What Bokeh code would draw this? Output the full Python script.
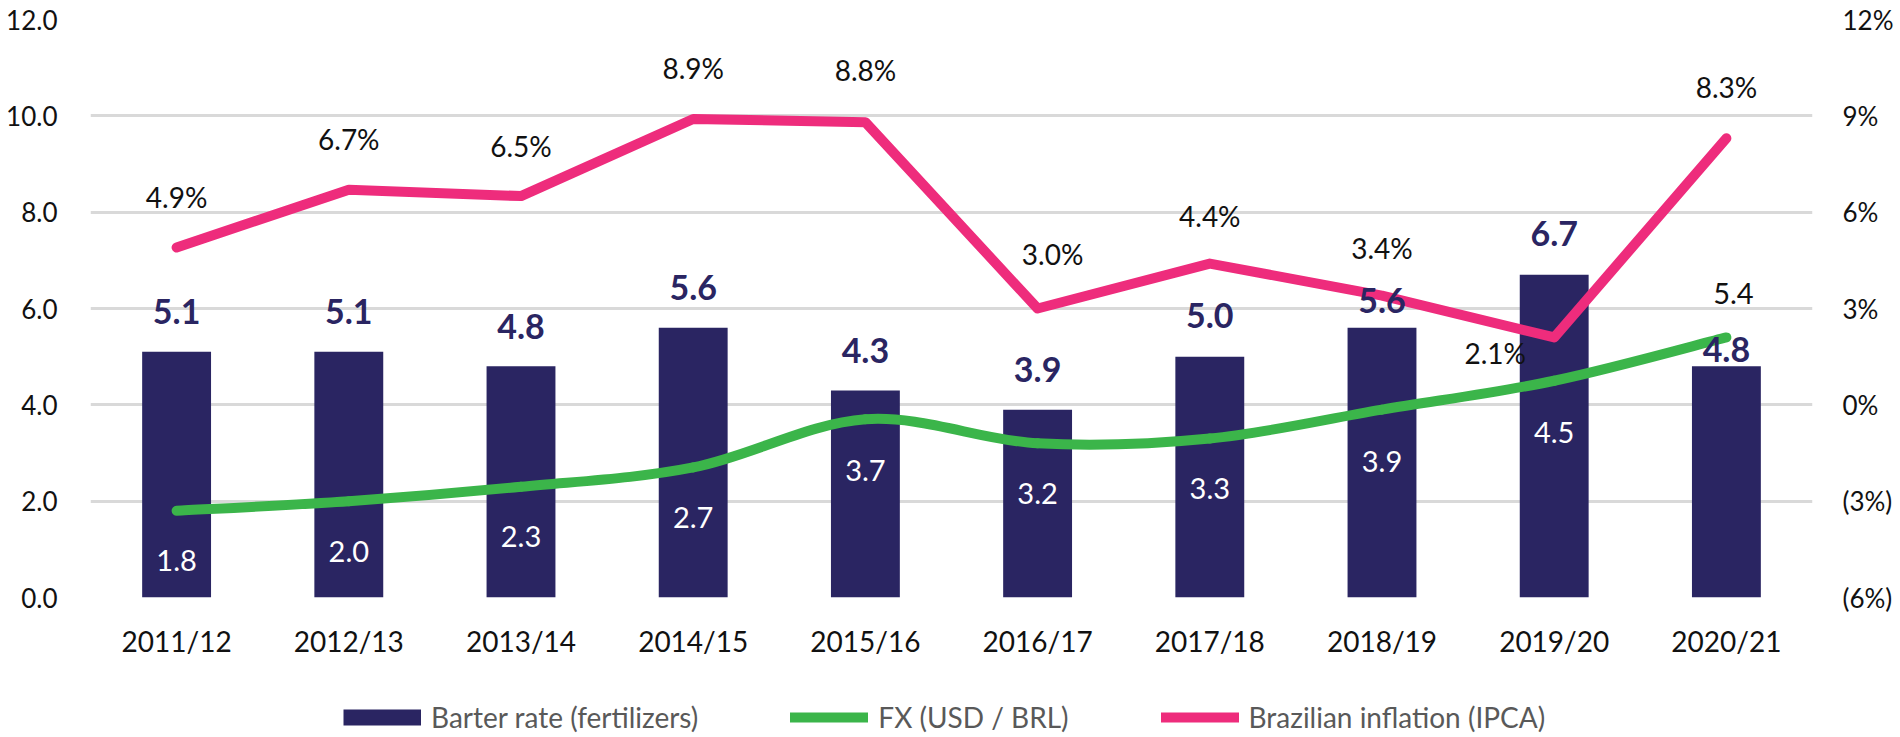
import numpy as np
from bokeh.plotting import figure
from bokeh.layouts import column
from bokeh.models import (FactorRange, Range1d, LinearAxis, FixedTicker, ColumnDataSource,
                          Legend, LegendItem, NumeralTickFormatter)
from bokeh.core.properties import value
from bokeh.embed import file_html
from bokeh.resources import INLINE

# ---------------- data ----------------
seasons = ["2011/12", "2012/13", "2013/14", "2014/15", "2015/16",
           "2016/17", "2017/18", "2018/19", "2019/20", "2020/21"]
barter_rate = [5.1, 5.1, 4.8, 5.6, 4.3, 3.9, 5.0, 5.6, 6.7, 4.8]
fx_usd_brl = [1.8, 2.0, 2.3, 2.7, 3.7, 3.2, 3.3, 3.9, 4.5, 5.4]
ipca_pct = [4.9, 6.7, 6.5, 8.9, 8.8, 3.0, 4.4, 3.4, 2.1, 8.3]

left_ticks = [0, 2, 4, 6, 8, 10, 12]
right_ticks = [-6, -3, 0, 3, 6, 9, 12]
right_tick_labels = ["(6%)", "(3%)", "0%", "3%", "6%", "9%", "12%"]
legend_labels = ["Barter rate (fertilizers)", "FX (USD / BRL)", "Brazilian inflation (IPCA)"]

# ---------------- styles ----------------
NAVY = "#2A2562"
GREEN = "#3BB54A"
PINK = "#EE2C7C"
GRID = "#D9D9D9"
TXT = "#111111"
FONT = "Lato"

bar_label_dy = [-40, -40, -40, -40, -40, -40, -41, -27, -41, -17]
fx_label_dy = [50, 50, 50, 50, 51, 50, 50, 52, 52, -44]
fx_label_color = ["white"] * 9 + [TXT]
fx_label_dx = [0] * 9 + [7]
ipca_label_dx = [0, 0, 0, 0, 0, 15, 0, 0, -59, 0]
ipca_label_dy = [-50, -51, -50, -51, -52, -55, -48, -48, 16, -51]

W = 1900
H_MAIN = 660
H_LEG = 77

p = figure(x_range=FactorRange(*seasons, range_padding=0, factor_padding=0),
           y_range=Range1d(0, 12),
           width=W, height=H_MAIN, output_backend="svg", toolbar_location=None,
           min_border_left=90, min_border_right=88, min_border_top=19, min_border_bottom=62,
           outline_line_color=None, background_fill_color="white", border_fill_color="white")
p.extra_y_ranges = {"ipca": Range1d(-6, 12)}


def style_axis(ax, size, standoff):
    ax.axis_line_color = None
    ax.major_tick_line_color = None
    ax.minor_tick_line_color = None
    ax.major_tick_out = 0
    ax.major_tick_in = 0
    ax.minor_tick_out = 0
    ax.minor_tick_in = 0
    ax.major_label_text_font = FONT
    ax.major_label_text_font_size = size
    ax.major_label_text_color = TXT
    ax.major_label_standoff = standoff


# left axis
ya = p.yaxis[0]
ya.ticker = FixedTicker(ticks=left_ticks)
ya.formatter = NumeralTickFormatter(format="0.0")
style_axis(ya, "26px", 33)

# right axis
ra = LinearAxis(y_range_name="ipca", ticker=FixedTicker(ticks=right_ticks),
                major_label_overrides={t: l for t, l in zip(right_ticks, right_tick_labels)})
style_axis(ra, "26px", 30)
p.add_layout(ra, "right")

# x axis
xa = p.xaxis[0]
style_axis(xa, "28px", 26)

p.xgrid.grid_line_color = None
p.ygrid.ticker = FixedTicker(ticks=left_ticks)
p.ygrid.grid_line_color = GRID
p.ygrid.grid_line_width = 3

# bars
p.vbar(x=seasons, top=barter_rate, width=0.4, fill_color=NAVY, line_color=None)

# FX smoothed line (Catmull-Rom -> cubic Bezier through the data points)
n = len(seasons)
xs = np.arange(n) + 0.5
ys = np.array(fx_usd_brl, dtype=float)
x0, y0, x1, y1, cx0, cy0, cx1, cy1 = [], [], [], [], [], [], [], []
for i in range(n - 1):
    a = max(i - 1, 0)
    d = min(i + 2, n - 1)
    x0.append(xs[i]); y0.append(ys[i]); x1.append(xs[i + 1]); y1.append(ys[i + 1])
    cx0.append(xs[i] + (xs[i + 1] - xs[a]) / 6.0)
    cy0.append(ys[i] + (ys[i + 1] - ys[a]) / 6.0)
    cx1.append(xs[i + 1] - (xs[d] - xs[i]) / 6.0)
    cy1.append(ys[i + 1] - (ys[d] - ys[i]) / 6.0)
p.bezier(x0=x0, y0=y0, x1=x1, y1=y1, cx0=cx0, cy0=cy0, cx1=cx1, cy1=cy1,
         line_color=GREEN, line_width=10, line_cap="round")

# inflation line
p.line(x=seasons, y=ipca_pct, y_range_name="ipca", line_color=PINK, line_width=10,
       line_join="round", line_cap="round")

# labels
bar_src = ColumnDataSource(dict(x=seasons, y=barter_rate, t=[f"{v:.1f}" for v in barter_rate],
                                dy=bar_label_dy))
p.text(x="x", y="y", text="t", y_offset="dy", source=bar_src, text_align="center",
       text_baseline="middle", text_font=value(FONT), text_font_style="bold",
       text_font_size="34px", text_color=NAVY)

fx_src = ColumnDataSource(dict(x=seasons, y=fx_usd_brl, t=[f"{v:.1f}" for v in fx_usd_brl],
                               dx=fx_label_dx, dy=fx_label_dy, c=fx_label_color))
p.text(x="x", y="y", text="t", x_offset="dx", y_offset="dy", source=fx_src, text_align="center",
       text_baseline="middle", text_font=value(FONT), text_font_size="29px", text_color="c")

ipca_src = ColumnDataSource(dict(x=seasons, y=ipca_pct, t=[f"{v:.1f}%" for v in ipca_pct],
                                 dx=ipca_label_dx, dy=ipca_label_dy))
p.text(x="x", y="y", text="t", x_offset="dx", y_offset="dy", source=ipca_src, y_range_name="ipca",
       text_align="center", text_baseline="middle", text_font=value(FONT),
       text_font_size="28px", text_color=TXT)

# legend strip (its own small figure below the chart); its sample renderers
# carry the same series but lie outside the strip's visible y range
pl = figure(width=W, height=H_LEG, x_range=FactorRange(*seasons), y_range=Range1d(100, 101),
            output_backend="svg", toolbar_location=None, min_border=0,
            x_axis_type=None, y_axis_type=None, outline_line_color=None,
            background_fill_color="white", border_fill_color="white")
pl.grid.visible = False
lg_bar = pl.line(x=seasons, y=barter_rate, line_color=NAVY, line_width=16, line_cap="butt")
lg_fx = pl.line(x=seasons, y=fx_usd_brl, line_color=GREEN, line_width=10, line_cap="round")
lg_ipca = pl.line(x=seasons, y=ipca_pct, line_color=PINK, line_width=10, line_cap="round")
legend = Legend(items=[LegendItem(label=legend_labels[0], renderers=[lg_bar]),
                       LegendItem(label=legend_labels[1], renderers=[lg_fx]),
                       LegendItem(label=legend_labels[2], renderers=[lg_ipca])],
                orientation="horizontal", location=(253, 3),
                glyph_width=78, glyph_height=20, label_standoff=10, spacing=92,
                padding=0, margin=0, border_line_color=None, background_fill_alpha=0,
                label_text_font=FONT, label_text_font_size="28px", label_text_color="#595959")
pl.add_layout(legend)

layout = column(p, pl, spacing=0)
open("out.html", "w").write(file_html(layout, INLINE))
